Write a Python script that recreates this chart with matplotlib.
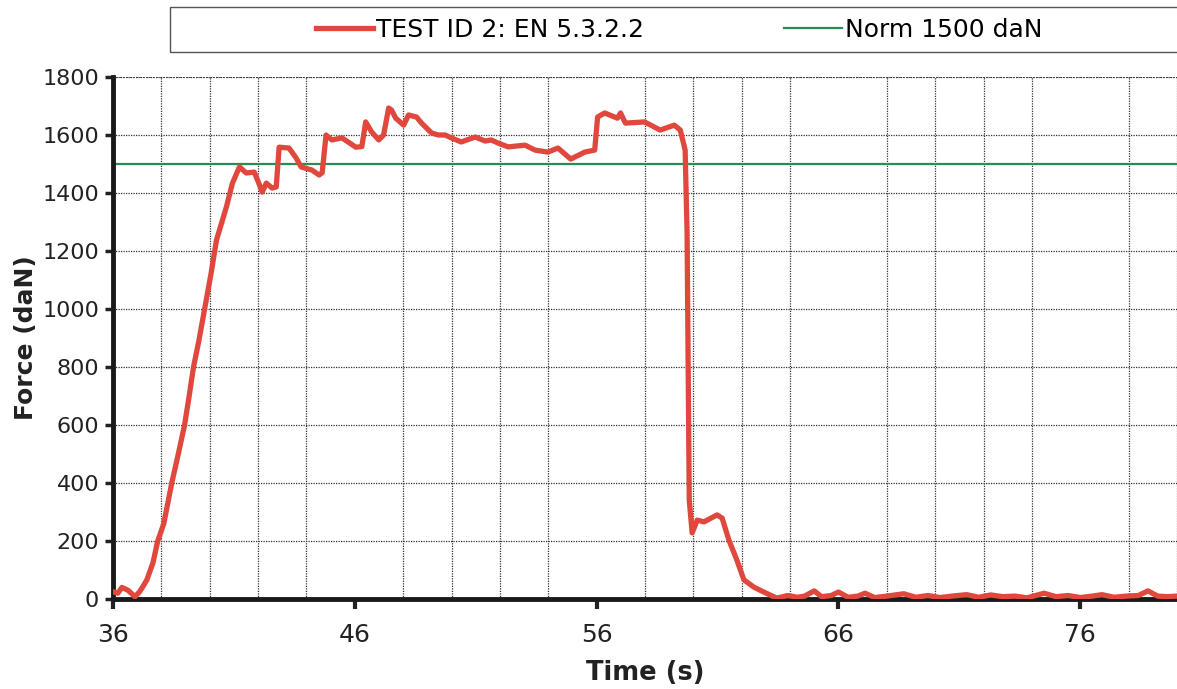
import numpy as np
import matplotlib
matplotlib.use('Agg')
import matplotlib.pyplot as plt
from matplotlib.patches import Rectangle

# Test curve (time in s, force in daN)
time_s = [36.00, 36.20, 36.37, 36.62, 36.91, 37.10, 37.25, 37.40, 37.65, 37.85,
          38.10, 38.43, 38.70, 38.96, 39.15, 39.33, 39.55, 39.79, 40.05, 40.28,
          40.69, 40.94, 41.23, 41.51, 41.84, 42.00, 42.17, 42.34, 42.58, 42.75,
          42.87, 43.28, 43.57, 43.78, 44.23, 44.52, 44.65, 44.81, 45.05, 45.47,
          46.04, 46.29, 46.45, 46.70, 46.99, 47.19, 47.40, 47.52, 47.69, 48.02,
          48.22, 48.55, 48.76, 49.17, 49.46, 49.74, 49.99, 50.40, 50.98, 51.39,
          51.64, 51.93, 52.34, 53.04, 53.45, 53.98, 54.40, 54.93, 55.51, 55.92,
          56.04, 56.33, 56.86, 56.99, 57.19, 57.98, 58.63, 59.21, 59.46, 59.66,
          59.74, 59.83, 59.95, 60.16, 60.44, 60.98, 61.19, 61.47, 61.80, 62.09,
          62.50, 62.91, 63.45,
          63.9, 64.3, 64.6, 65.0, 65.3, 65.7, 66.0, 66.4, 66.8, 67.1,
          67.5, 68.0, 68.7, 69.2, 69.7, 70.2, 70.7, 71.3, 71.8, 72.3,
          72.8, 73.3, 73.8, 74.5, 75.0, 75.5, 76.0, 76.5, 76.9, 77.4,
          77.9, 78.4, 78.8, 79.2, 79.6, 80.0]
force = [25, 20, 40, 30, 8, 25, 45, 66, 124, 200,
         260, 400, 500, 600, 700, 800, 890, 1000, 1120, 1238,
         1352, 1434, 1490, 1469, 1472, 1440, 1403, 1434, 1417, 1421,
         1558, 1555, 1521, 1490, 1479, 1462, 1470, 1600, 1583, 1590,
         1558, 1560, 1645, 1610, 1583, 1600, 1693, 1686, 1658, 1634,
         1669, 1662, 1641, 1607, 1600, 1600, 1590, 1576, 1593, 1579,
         1583, 1572, 1559, 1565, 1548, 1541, 1555, 1517, 1541, 1548,
         1662, 1676, 1658, 1676, 1641, 1645, 1617, 1634, 1617, 1548,
         1262, 341, 228, 272, 266, 290, 279, 203, 134, 66,
         41, 24, 3,
         12, 6, 10, 28, 8, 12, 24, 6, 10, 20,
         5, 10, 18, 6, 12, 5, 10, 15, 6, 14,
         8, 10, 4, 20, 8, 12, 5, 10, 15, 6,
         10, 12, 28, 10, 8, 10]

norm_time = [36, 80]
norm_force = [1500, 1500]

x_ticks = [36, 46, 56, 66, 76]
y_ticks = [0, 200, 400, 600, 800, 1000, 1200, 1400, 1600, 1800]

plt.rcParams['font.family'] = 'DejaVu Sans'

fig = plt.figure(figsize=(11.77, 6.89), dpi=100)
ax = fig.add_axes([113/1177, 1 - 599/689, 1064/1177, 522/689])

ax.plot(time_s, force, color='#e0483e', lw=3.8, solid_joinstyle='round',
        label='TEST ID 2: EN 5.3.2.2', zorder=3)
ax.plot(norm_time, norm_force, color='#2a8c55', lw=1.6, label='Norm 1500 daN', zorder=2)

ax.set_xlim(36, 36 + 1064/24.3)
ax.set_ylim(0, 1800)

# grid every 2 s and every 200 daN
ax.set_xticks(np.arange(36, 82, 2), minor=True)
ax.set_xticks(x_ticks)
ax.set_yticks(y_ticks)
ax.grid(True, which='minor', axis='x', color='#333333', ls=(0, (1, 1)), lw=0.9)
ax.grid(True, which='major', axis='y', color='#333333', ls=(0, (1, 1)), lw=0.9)
ax.tick_params(axis='x', which='minor', length=0)
ax.tick_params(axis='x', which='major', direction='out', length=7, width=3,
               labelsize=18, pad=10, colors='#222222')
ax.tick_params(axis='y', direction='out', length=6, width=2.5,
               labelsize=16, pad=4, colors='#222222')

for s in ['top', 'right']:
    ax.spines[s].set_visible(False)
ax.spines['left'].set_linewidth(3.5)
ax.spines['bottom'].set_linewidth(3.5)
ax.spines['left'].set_color('#1a1a1a')
ax.spines['bottom'].set_color('#1a1a1a')
ax.axhline(1800, color='#333333', ls=(0, (1, 1)), lw=1.2)

ax.set_xlabel('Time (s)', fontsize=18.5, fontweight='bold', color='#222222', labelpad=10)
ax.set_ylabel('Force (daN)', fontsize=18, fontweight='bold', color='#222222', labelpad=3)

# legend box across the top
fig.patches.append(Rectangle((170/1177, 1 - 52/689), 1.0, 45/689,
                             transform=fig.transFigure, fill=False,
                             ec='#555555', lw=1))
fig.legend(loc='center', bbox_to_anchor=(679/1177, 1 - 30/689), ncol=2,
           frameon=False, fontsize=18, handlelength=2.3, handletextpad=0.12,
           columnspacing=5.6)

fig.savefig('out.png', dpi=100)
